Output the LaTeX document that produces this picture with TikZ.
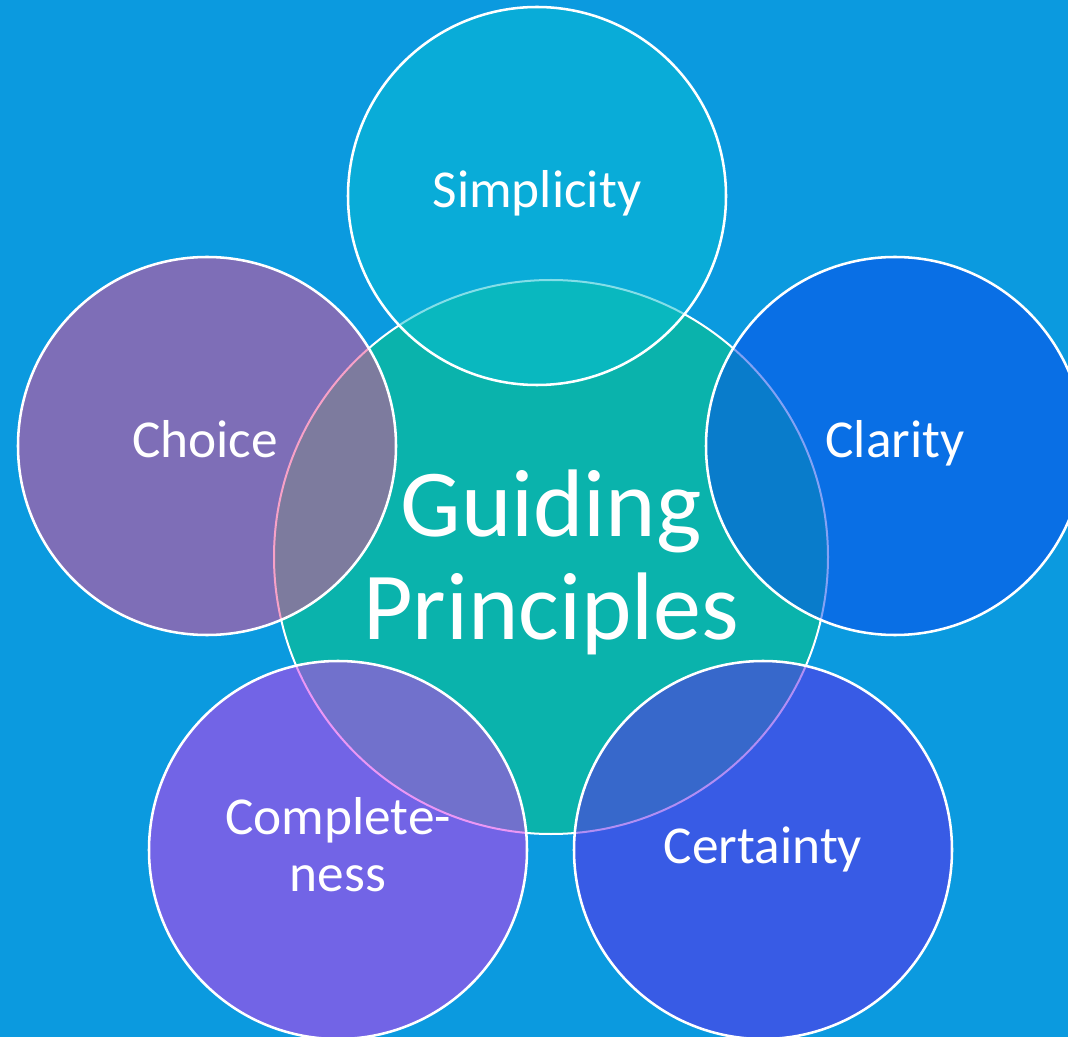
\documentclass[tikz,border=0pt]{standalone}
\usepackage{fontspec}
\setmainfont{Carlito}
\definecolor{bg}{RGB}{11,154,223}
\definecolor{ctr}{RGB}{10,179,172}
\definecolor{csimp}{RGB}{9,190,211}
\definecolor{cchoice}{RGB}{241,68,145}
\definecolor{cclar}{RGB}{9,70,235}
\definecolor{ccomp}{RGB}{217,48,237}
\definecolor{ccert}{RGB}{101,30,235}
\begin{document}
\begin{tikzpicture}[x=0.75pt,y=-0.75pt,
  outer/.style={circle, draw=white, line width=1.9pt, minimum size=283.5pt, inner sep=0pt, fill opacity=0.5},
  lbl/.style={text=white, font=\fontsize{40}{48}\selectfont, anchor=base, inner sep=0pt},
  big/.style={text=white, font=\fontsize{72}{80}\selectfont, anchor=base, inner sep=0pt}]
\useasboundingbox (0,0) rectangle (1068,1037);
\clip (0,0) rectangle (1068,1037);
\fill[bg] (0,0) rectangle (1068,1037);
\node[circle, fill=ctr, draw=white, line width=1.5pt, minimum size=415.5pt, inner sep=0pt] (gp) at (551,557) {};
\node[outer, fill=csimp] (simp) at (537,196) {};
\node[outer, fill=cchoice] (choice) at (207,446) {};
\node[outer, fill=cclar] (clar) at (895,446) {};
\node[outer, fill=ccomp] (comp) at (338,850) {};
\node[outer, fill=ccert] (cert) at (763,850) {};
\node[lbl] (tsimp) at (537,208) {Simplicity};
\node[lbl] (tchoice) at (205,458) {Choice};
\node[lbl] (tclar) at (895,458) {Clarity};
\node[lbl] (tcomp1) at (338,834) {Complete-};
\node[lbl] (tcomp2) at (338,891) {ness};
\node[lbl] (tcert) at (763,863) {Certainty};
\node[big] (tg) at (551,537) {Guiding};
\node[big] (tp) at (551,639) {Principles};
\end{tikzpicture}
\end{document}
